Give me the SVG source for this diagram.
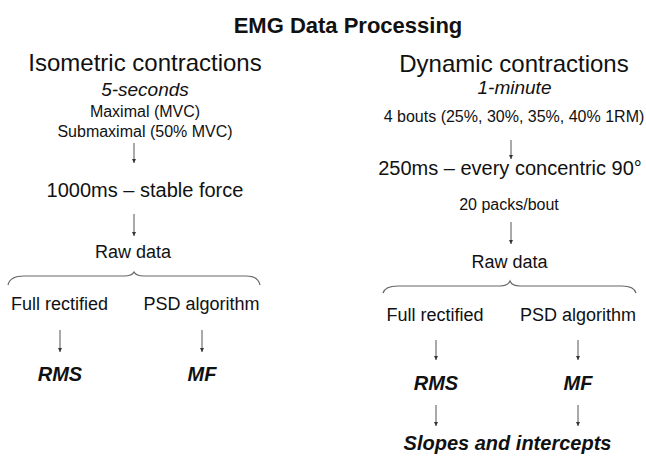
<svg xmlns="http://www.w3.org/2000/svg" width="646" height="460" viewBox="0 0 646 460">
<defs>
<marker id="ah" markerUnits="userSpaceOnUse" markerWidth="5" markerHeight="5" refX="4" refY="2.5" orient="auto">
<path d="M0,0.5 L4,2.5 L0,4.5 z" fill="#333"/>
</marker>
</defs>
<style>
text{font-family:"Liberation Sans",Arial,sans-serif;fill:#111;text-anchor:middle}
.title{font-size:22px;font-weight:bold}
.h{font-size:24px}
.it{font-size:19px;font-style:italic}
.s16{font-size:16px}
.s20{font-size:20px}
.s18{font-size:18px}
.bi{font-size:20px;font-weight:bold;font-style:italic}
.arr{stroke:#555;stroke-width:1;fill:none;marker-end:url(#ah)}
.brace{stroke:#666;stroke-width:1.2;fill:none}
</style>
<rect width="646" height="460" fill="#fff"/>
<g id="title"><text class="title" x="348" y="33">EMG Data Processing</text></g>
<g id="iso-header">
<text class="h" x="145" y="71">Isometric contractions</text>
<text class="it" x="145" y="96">5-seconds</text>
<text class="s16" x="145" y="117">Maximal (MVC)</text>
<text class="s16" x="145" y="137">Submaximal (50% MVC)</text>
</g>
<g id="iso-window"><text class="s20" x="145" y="197">1000ms – stable force</text></g>
<g id="iso-raw"><text class="s18" x="133" y="258">Raw data</text></g>
<g id="iso-full"><text class="s18" x="59.5" y="310">Full rectified</text></g>
<g id="iso-psd"><text class="s18" x="201.5" y="310">PSD algorithm</text></g>
<g id="iso-rms"><text class="bi" x="60" y="381">RMS</text></g>
<g id="iso-mf"><text class="bi" x="202" y="381">MF</text></g>
<g id="dyn-header">
<text class="h" x="514" y="72">Dynamic contractions</text>
<text class="it" x="514.5" y="94">1-minute</text>
<text class="s16" x="514" y="122">4 bouts (25%, 30%, 35%, 40% 1RM)</text>
</g>
<g id="dyn-window">
<text class="s20" x="510" y="175">250ms – every concentric 90°</text>
<text class="s16" x="509" y="210">20 packs/bout</text>
</g>
<g id="dyn-raw"><text class="s18" x="509.5" y="268">Raw data</text></g>
<g id="dyn-full"><text class="s18" x="435" y="321">Full rectified</text></g>
<g id="dyn-psd"><text class="s18" x="578" y="321">PSD algorithm</text></g>
<g id="dyn-rms"><text class="bi" x="436" y="390">RMS</text></g>
<g id="dyn-mf"><text class="bi" x="578" y="390">MF</text></g>
<g id="dyn-slopes"><text class="bi" x="507.5" y="450">Slopes and intercepts</text></g>
<g id="connectors">
<line class="arr" x1="134" y1="143" x2="134" y2="163"/>
<line class="arr" x1="134" y1="214" x2="134" y2="236"/>
<path class="brace" d="M8,285 Q10,276 24,276 L124,276 Q132,276 134,272 Q136,276 144,276 L246,276 Q258,276 260,285"/>
<line class="arr" x1="60" y1="330" x2="60" y2="352"/>
<line class="arr" x1="202" y1="330" x2="202" y2="352"/>
<line class="arr" x1="511" y1="140" x2="511" y2="159"/>
<line class="arr" x1="511" y1="222" x2="511" y2="244"/>
<path class="brace" d="M383,293 Q385,286 398,286 L500,286 Q508,286 510,281 Q512,286 520,286 L622,286 Q634,286 636,293"/>
<line class="arr" x1="436" y1="340" x2="436" y2="360"/>
<line class="arr" x1="578" y1="340" x2="578" y2="360"/>
<line class="arr" x1="436" y1="405" x2="436" y2="426"/>
<line class="arr" x1="578" y1="405" x2="578" y2="426"/>
</g>
</svg>
